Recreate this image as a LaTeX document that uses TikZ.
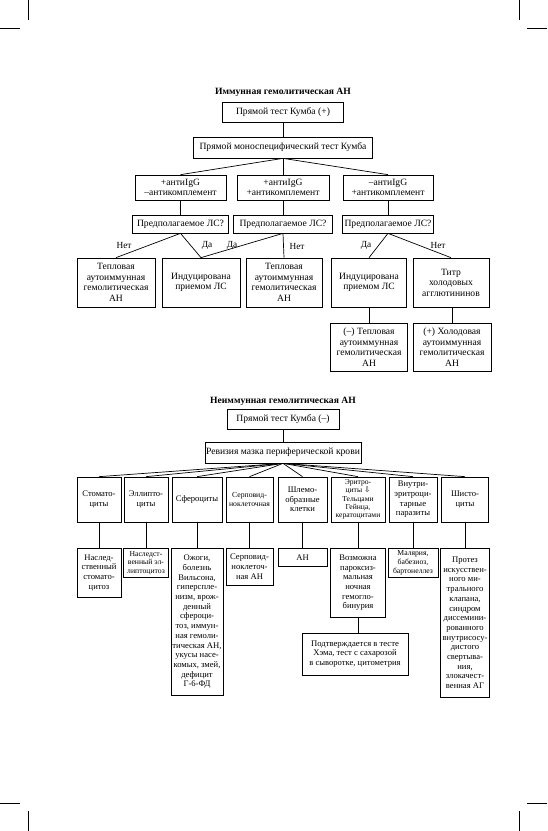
\documentclass[tikz,border=0pt]{standalone}
\usepackage{fontspec}
\setmainfont{Liberation Serif}
\newfontfamily\arrowfont{DejaVu Sans}
\usetikzlibrary{positioning}

\begin{document}
\begin{tikzpicture}[
  x=1pt, y=-1pt,
  box/.style={draw, line width=0.7pt, align=center, inner sep=1pt,
              font=\fontsize{9.6}{10.5}\selectfont},
  sbox/.style={box, font=\fontsize{8.6}{9.7}\selectfont},
  tbox/.style={box, font=\fontsize{7.7}{8.6}\selectfont},
  sz/.style 2 args={minimum width=#1pt, minimum height=#2pt},
  ttl/.style={font=\fontsize{9.6}{11}\selectfont\bfseries},
  lbl/.style={font=\fontsize{9.3}{10}\selectfont, inner sep=1pt},
  link/.style={line width=0.7pt},
  crop/.style={line width=0.8pt},
]
\useasboundingbox (0,0) rectangle (547,831);

% crop marks
\draw[crop] (28,0) -- (28,20);   \draw[crop] (0,28) -- (20,28);
\draw[crop] (519,0) -- (519,20); \draw[crop] (527,28) -- (547,28);
\draw[crop] (28,811) -- (28,831);   \draw[crop] (0,803) -- (20,803);
\draw[crop] (519,811) -- (519,831); \draw[crop] (527,803) -- (547,803);

% immune haemolytic anaemia
\node[ttl] (t1) at (283,92) {Иммунная гемолитическая АН};
\node[box, sz={121}{20}] (kp) at (283,112) {Прямой тест Кумба (+)};
\node[box, sz={179}{21}] (mono) at (283,147.5) {Прямой моноспецифический тест Кумба};
\draw[link] (kp) -- (mono);

\node[box, sz={91}{25}] (ab1) at (180.5,187.5) {+антиIgG\\–антикомплемент};
\node[box, sz={92}{25}] (ab2) at (283,187.5) {+антиIgG\\+антикомплемент};
\node[box, sz={90}{25}] (ab3) at (388,187.5) {–антиIgG\\+антикомплемент};
\draw[link] (mono.south) -- (ab1.north);
\draw[link] (mono.south) -- (ab2.north);
\draw[link] (mono.south) -- (ab3.north);

\node[box, sz={96}{18}] (ls1) at (180.5,224) {Предполагаемое ЛС?};
\node[box, sz={99}{18}] (ls2) at (283,224) {Предполагаемое ЛС?};
\node[box, sz={91}{18}] (ls3) at (388,224) {Предполагаемое ЛС?};
\draw[link] (ab1) -- (ls1); \draw[link] (ab2) -- (ls2); \draw[link] (ab3) -- (ls3);

\node[box, sz={78}{49}] (wa1) at (116,282.5) {Тепловая\\аутоиммунная\\гемолитическая\\АН};
\node[box, sz={78}{49}] (dr1) at (201,282.5) {Индуцирована\\приемом ЛС};
\node[box, sz={76}{49}] (wa2) at (284,282.5) {Тепловая\\аутоиммунная\\гемолитическая\\АН};
\node[box, sz={75}{49}] (dr2) at (369,282.5) {Индуцирована\\приемом ЛС};
\node[box, sz={76}{49}] (tit) at (451,282.5) {Титр\\холодовых\\агглютининов};
\draw[link] (ls1.south) -- (wa1.north);
\draw[link] (ls1.south) -- (dr1.north);
\draw[link] (ls2.south) -- (dr1.north);
\draw[link] (ls2.south) -- (wa2.north);
\draw[link] (ls3.south) -- (dr2.north);
\draw[link] (ls3.south) -- (tit.north);
\node[lbl] (no1) at (124,245) {Нет};
\node[lbl] (ye1) at (207,245) {Да};
\node[lbl] (ye2) at (232,245) {Да};
\node[lbl] (no2) at (297,246) {Нет};
\node[lbl] (ye3) at (366,245) {Да};
\node[lbl] (no3) at (438,245) {Нет};

\node[box, sz={77}{48}] (neg) at (369,347) {(–) Тепловая\\аутоиммунная\\гемолитическая\\АН};
\node[box, sz={78}{48}] (pos) at (452,347) {(+) Холодовая\\аутоиммунная\\гемолитическая\\АН};
\draw[link] (dr2) -- (neg);
\draw[link] (pos.north |- tit.south) -- (pos.north);

% non-immune haemolytic anaemia
\node[ttl] (t2) at (283,401) {Неиммунная гемолитическая АН};
\node[box, sz={112}{20}] (kn) at (283,419) {Прямой тест Кумба (–)};
\node[box, sz={150}{21}] (rev) at (283,452.5) {Ревизия мазка периферической крови};
\draw[link] (kn) -- (rev);

\node[sbox, sz={44}{45}] (r1) at (99,499.5) {Стомато-\\циты};
\node[sbox, sz={44}{45}] (r2) at (146,499.5) {Эллипто-\\циты};
\node[sbox, sz={50}{45}] (r3) at (197,499.5) {Сфероциты};
\node[tbox, sz={47}{45}] (r4) at (249.5,499.5) {Серповид-\\ноклеточная};
\node[sbox, sz={49}{45}] (r5) at (302.5,499.5) {Шлемо-\\образные\\клетки};
\node[tbox, sz={54}{45}, font=\fontsize{7.6}{8.3}\selectfont] (r6) at (358,499.5)
  {Эритро-\\циты {\arrowfont ⇩}\\Тельцами\\Гейнца,\\кератоцитами};
\node[sbox, sz={48}{45}] (r7) at (413,499.5) {Внутри-\\эритроци-\\тарные\\паразиты};
\node[sbox, sz={47}{45}] (r8) at (465,499.5) {Шисто-\\циты};
\draw[link] (rev.south) -- (r1.north);
\draw[link] (rev.south) -- (r2.north);
\draw[link] (rev.south) -- (r3.north);
\draw[link] (rev.south) -- (r4.north);
\draw[link] (rev.south) -- (r5.north);
\draw[link] (rev.south) -- (r6.north);
\draw[link] (rev.south) -- (r7.north);
\draw[link] (rev.south) -- (r8.north);

\node[sbox, sz={44}{49}, anchor=north] (q1) at (99,548) {Наслед-\\ственный\\стомато-\\цитоз};
\node[tbox, sz={45}{29}, anchor=north] (q2) at (146,548) {Наследст-\\венный эл-\\липтоцитоз};
\node[sbox, sz={52}{147}, anchor=north] (q3) at (197,548)
  {Ожоги,\\болезнь\\Вильсона,\\гиперспле-\\низм, врож-\\денный\\сфероци-\\тоз, иммун-\\ная гемоли-\\тическая АН,\\укусы насе-\\комых, змей,\\дефицит\\Г-6-ФД};
\node[sbox, sz={47}{37}, anchor=north] (q4) at (249.5,548) {Серповид-\\ноклеточ-\\ная АН};
\node[sbox, sz={49}{18}, anchor=north] (q5) at (302.5,548) {АН};
\node[sbox, sz={55}{69}, anchor=north] (q6) at (358,548)
  {Возможна\\пароксиз-\\мальная\\ночная\\гемогло-\\бинурия};
\node[tbox, sz={50}{29}, anchor=north] (q7) at (413,548) {Малярия,\\бабезиоз,\\бартонеллез};
\node[sbox, sz={49}{149}, anchor=north] (q8) at (465,548)
  {Протез\\искусствен-\\ного ми-\\трального\\клапана,\\синдром\\диссемини-\\рованного\\внутрисосу-\\дистого\\свертыва-\\ния,\\злокачест-\\венная АГ};
\draw[link] (r1) -- (q1); \draw[link] (r2) -- (q2);
\draw[link] (r3) -- (q3); \draw[link] (r4) -- (q4);
\draw[link] (r5) -- (q5); \draw[link] (r6) -- (q6);
\draw[link] (r7) -- (q7); \draw[link] (r8) -- (q8);

\node[sbox, sz={106}{42}] (pnh) at (355,654)
  {Подтверждается в тесте\\Хэма, тест с сахарозой\\в сыворотке, цитометрия};
\draw[link] (q6.south) -- (q6.south |- pnh.north);
\end{tikzpicture}
\end{document}
